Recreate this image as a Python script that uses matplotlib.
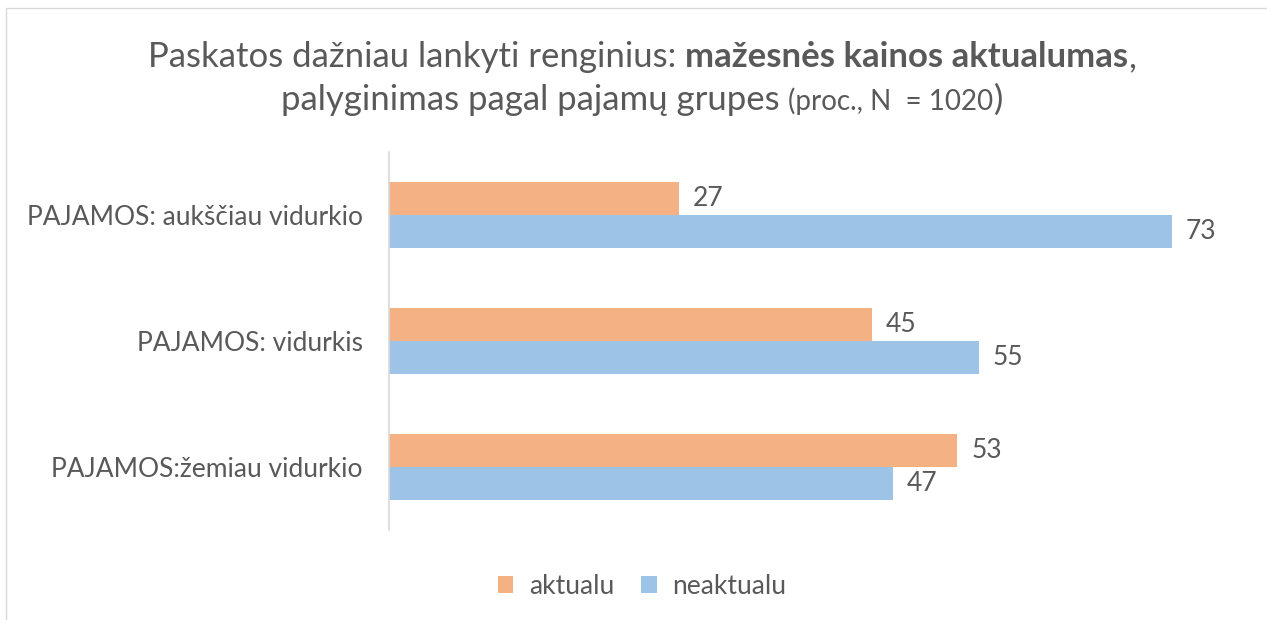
import matplotlib
matplotlib.use("Agg")
import matplotlib.pyplot as plt
import numpy as np
from matplotlib.patches import Rectangle

plt.rcParams['font.family'] = ['Lato', 'DejaVu Sans']

# data
categories = ["PAJAMOS: aukščiau vidurkio", "PAJAMOS: vidurkis", "PAJAMOS:žemiau vidurkio"]
aktualu = [27, 45, 53]
neaktualu = [73, 55, 47]
series_names = ["aktualu", "neaktualu"]

col_orange = "#F4B183"
col_blue = "#9DC3E6"
txt = "#595959"

fig = plt.figure(figsize=(12.67, 6.2), dpi=100)
# chart border (cropped on right and bottom like the original)
fig.patches.append(Rectangle((6 / 1267, -0.1), 1.2, (620 - 8) / 620 + 0.1,
                             transform=fig.transFigure, fill=False,
                             edgecolor="#D9D9D9", linewidth=1))

ax = fig.add_axes([389 / 1267, 90 / 620, 858 / 1267, 378 / 620])

y = np.arange(len(categories))
h = 0.258
b1 = ax.barh(y - h / 2, aktualu, height=h, color=col_orange, label=series_names[0])
b2 = ax.barh(y + h / 2, neaktualu, height=h, color=col_blue, label=series_names[1])

for bars in (b1, b2):
    for r in bars:
        ax.text(r.get_width() + 1.3, r.get_y() + r.get_height() / 2,
                "%d" % r.get_width(), va="center", ha="left",
                fontsize=19, color=txt)

ax.set_xlim(0, 80)
ax.set_ylim(2.5, -0.5)
ax.set_yticks(y)
ax.set_yticklabels(categories, fontsize=19, color=txt)
ax.tick_params(axis="y", length=0, pad=19)
ax.set_xticks([])
for s in ["top", "right", "bottom"]:
    ax.spines[s].set_visible(False)
ax.spines["left"].set_color("#D9D9D9")
ax.spines["left"].set_linewidth(1.2)

# title, built from parts so one part can be bold / smaller
fig.canvas.draw()
rend = fig.canvas.get_renderer()


def title_line(parts, ypix):
    objs, widths = [], []
    for s, fs, w in parts:
        o = fig.text(0, 0, s, fontsize=fs, fontweight=w, color=txt, va="baseline")
        widths.append(o.get_window_extent(rend).width)
        objs.append(o)
    x0 = (642 - sum(widths) / 2) / 1267
    for o, wd in zip(objs, widths):
        o.set_position((x0, 1 - ypix / 620))
        x0 += wd / 1267


title_line([("Paskatos dažniau lankyti renginius: ", 25, "normal"),
            ("mažesnės kainos aktualumas", 25, "bold"),
            (",", 25, "normal")], 67)
title_line([("palyginimas pagal pajamų grupes ", 25, "normal"),
            ("(proc., N  = 1020", 20, "normal"),
            (")", 25, "normal")], 110)

fig.legend(handles=[b1, b2], labels=series_names, loc="center",
           bbox_to_anchor=(642 / 1267, 1 - 586 / 620), ncol=2, frameon=False,
           fontsize=19, labelcolor=txt, handlelength=0.6, handleheight=0.6,
           handletextpad=0.6, columnspacing=1.0)

fig.savefig("out.png", dpi=100)
